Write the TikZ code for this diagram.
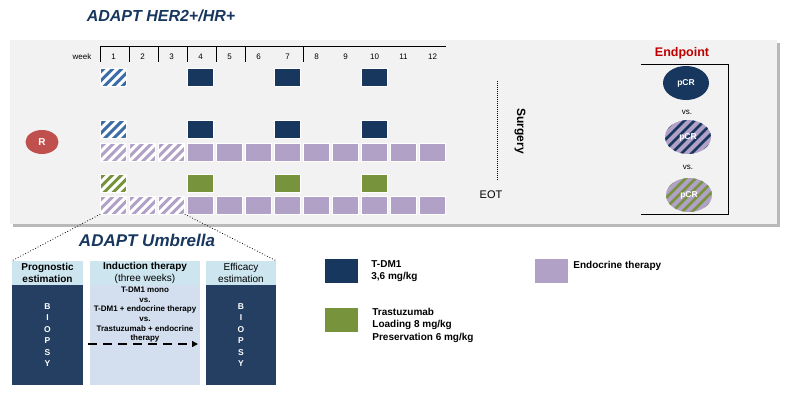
\documentclass[tikz,border=0pt]{standalone}
\usepackage{fontspec}
\setmainfont{Liberation Sans}
\usetikzlibrary{shapes.geometric,arrows.meta,positioning}

\definecolor{tdmblue}{HTML}{17375E}
\definecolor{trgreen}{HTML}{77933C}
\definecolor{endolila}{HTML}{B2A1C7}
\definecolor{randred}{HTML}{C0504D}
\definecolor{hatchblue}{HTML}{3C6DA6}
\definecolor{panelgray}{HTML}{F2F2F2}
\definecolor{headblue}{HTML}{CCE5EF}
\definecolor{biopsyblue}{HTML}{253F62}
\definecolor{inductblue}{HTML}{D3DFEE}
\definecolor{endred}{HTML}{C00000}

\tikzset{
  cell/.style={rectangle, draw=white, minimum width=26pt, minimum height=18pt, inner sep=0pt},
  hatchcell/.style={cell, fill=white, path picture={
    \foreach \d in {-27,-18,...,27}
      \draw[#1, line width=3pt] ([shift={({\d-30},30)}]path picture bounding box.center) -- ++(60,-60);}},
  pcr/.style={ellipse, minimum width=46pt, minimum height=34pt, inner sep=0pt,
    text=white, font=\fontsize{8.5}{9}\selectfont\bfseries},
  stripepcr/.style={pcr, fill=endolila, path picture={
    \foreach \d in {-50,-40,...,50}
      \draw[#1, line width=2.6pt] ([shift={({\d-40},40)}]path picture bounding box.center) -- ++(80,-80);}},
  colhead/.style={rectangle, fill=headblue, minimum width=71pt, minimum height=24pt,
    inner sep=0pt, align=center, font=\fontsize{10}{11.5}\selectfont},
  colbody/.style={rectangle, fill=#1, minimum width=71pt, minimum height=100pt, inner sep=0pt},
  legbox/.style={rectangle, fill=#1, minimum width=33pt, minimum height=24pt, inner sep=0pt},
  legtext/.style={inner sep=0pt, align=left, font=\fontsize{10}{12.5}\selectfont\bfseries},
  wknum/.style={inner sep=0pt, font=\fontsize{8}{9}\selectfont},
}

\begin{document}
\begin{tikzpicture}[x=1pt, y=-1pt]
  \useasboundingbox (0,0) rectangle (788,397);

  % titles
  \node[text=tdmblue, font=\fontsize{16}{18}\selectfont\bfseries\itshape] (title) at (161,16) {ADAPT HER2+/HR+};

  % panel
  \fill[gray!55] (13,43) rectangle (780,227);
  \fill[panelgray] (10,40) rectangle (777,224);

  % week scale
  \node[wknum] (wk) at (82,57) {week};
  \foreach \i in {1,...,12}
    \node[wknum] (n\i) at ({113.5+29*(\i-1)},57) {\i};
  \draw (100,46) -- (446,46);
  \foreach \x in {100,129,158,187,216,245,303}
    \draw (\x,46) -- (\x,62);

  % arm T-DM1 mono
  \node[hatchcell=hatchblue] (a1) at (113.5,77) {};
  \foreach \i in {4,7,10}
    \node[cell, fill=tdmblue] (a\i) at ({113.5+29*(\i-1)},77) {};

  % arm T-DM1 + endocrine therapy
  \node[hatchcell=hatchblue] (b1) at (113.5,129.5) {};
  \foreach \i in {4,7,10}
    \node[cell, fill=tdmblue] (b\i) at ({113.5+29*(\i-1)},129.5) {};
  \foreach \i in {1,2,3}
    \node[hatchcell=endolila] (be\i) at ({113.5+29*(\i-1)},152.5) {};
  \foreach \i in {4,...,12}
    \node[cell, fill=endolila] (be\i) at ({113.5+29*(\i-1)},152.5) {};

  % arm trastuzumab + endocrine therapy
  \node[hatchcell=trgreen] (c1) at (113.5,183) {};
  \foreach \i in {4,7,10}
    \node[cell, fill=trgreen] (c\i) at ({113.5+29*(\i-1)},183) {};
  \foreach \i in {1,2,3}
    \node[hatchcell=endolila] (ce\i) at ({113.5+29*(\i-1)},205) {};
  \foreach \i in {4,...,12}
    \node[cell, fill=endolila] (ce\i) at ({113.5+29*(\i-1)},205) {};

  % randomisation
  \node[ellipse, fill=randred, minimum width=33pt, minimum height=24pt, inner sep=0pt,
    text=white, font=\fontsize{10}{12}\selectfont\bfseries] (rand) at (42,142) {R};

  % surgery
  \coordinate (surgtop) at (497,81);
  \coordinate (surgbot) at (497,180);
  \draw[dash pattern=on 1pt off 1pt] (surgtop) -- (surgbot);
  \node[rotate=-90, font=\fontsize{12}{14}\selectfont\bfseries] (surg) at (520,131) {Surgery};
  \node[font=\fontsize{11}{13}\selectfont] (eot) at (491,195) {EOT};

  % endpoint
  \node[text=endred, font=\fontsize{12.5}{14}\selectfont\bfseries] (endpt) at (682,53) {Endpoint};
  \draw (641,64) -- (728,64) -- (728,214) -- (641,214);
  \node[pcr, fill=tdmblue] (pcrA) at (686,83) {pCR};
  \node[wknum] (vsA) at (687,112) {vs.};
  \node[stripepcr=tdmblue] (pcrB) at (688,137) {pCR};
  \node[wknum] (vsB) at (688,167) {vs.};
  \node[stripepcr=trgreen] (pcrC) at (689,195) {pCR};

  % umbrella
  \node[text=tdmblue, font=\fontsize{17}{19}\selectfont\bfseries\itshape] (umbr) at (147,240) {ADAPT Umbrella};
  \node[colhead, font=\fontsize{10}{11.5}\selectfont\bfseries] (proghead) at (47.5,273) {Prognostic\\estimation};
  \node[colhead, minimum width=110pt] (indhead) at (145,273) {\textbf{Induction therapy}\\(three weeks)};
  \node[colhead, minimum width=70pt] (effhead) at (241,273) {Efficacy\\estimation};
  \node[colbody=biopsyblue, text=white, align=center, font=\fontsize{8.5}{11.5}\selectfont\bfseries]
    (progbody) at (47.5,335) {B\\I\\O\\P\\S\\Y};
  \node[colbody=inductblue, minimum width=110pt] (indbody) at (145,335) {};
  \node[colbody=biopsyblue, minimum width=70pt, text=white, align=center, font=\fontsize{8.5}{11.5}\selectfont\bfseries]
    (effbody) at (241,335) {B\\I\\O\\P\\S\\Y};
  \node[anchor=north, inner sep=0pt, align=center, font=\fontsize{8}{9.6}\selectfont\bfseries]
    (indtext) at (145,287) {T-DM1 mono\\vs.\\T-DM1 + endocrine therapy\\vs.\\Trastuzumab + endocrine\\therapy};
  \coordinate (arrS) at (88,344);
  \coordinate (arrE) at (198,344);
  \draw[line width=1.8pt, dash pattern=on 9pt off 6pt, -{Triangle[length=6pt,width=6pt]}] (arrS) -- (arrE);

  % zoom lines
  \draw[dotted, thick] (ce1.south west) -- (proghead.north west);
  \draw[dotted, thick] (ce3.south east) -- (effhead.north east);

  % legend
  \node[legbox=tdmblue] (legtdm) at (341.5,271) {};
  \node[legtext, right=13pt of legtdm] (legtdmtext) {T-DM1\\3,6 mg/kg};
  \node[legbox=trgreen] (legtr) at (341.5,320) {};
  \node[legtext, right=14pt of legtr.north east, anchor=north west] (legtrtext) {Trastuzumab\\Loading 8 mg/kg\\Preservation 6 mg/kg};
  \node[legbox=endolila] (legendo) at (551.5,271) {};
  \node[legtext, right=5pt of legendo.north east, anchor=north west, yshift=-2pt] (legendotext) {Endocrine therapy};
\end{tikzpicture}
\end{document}
